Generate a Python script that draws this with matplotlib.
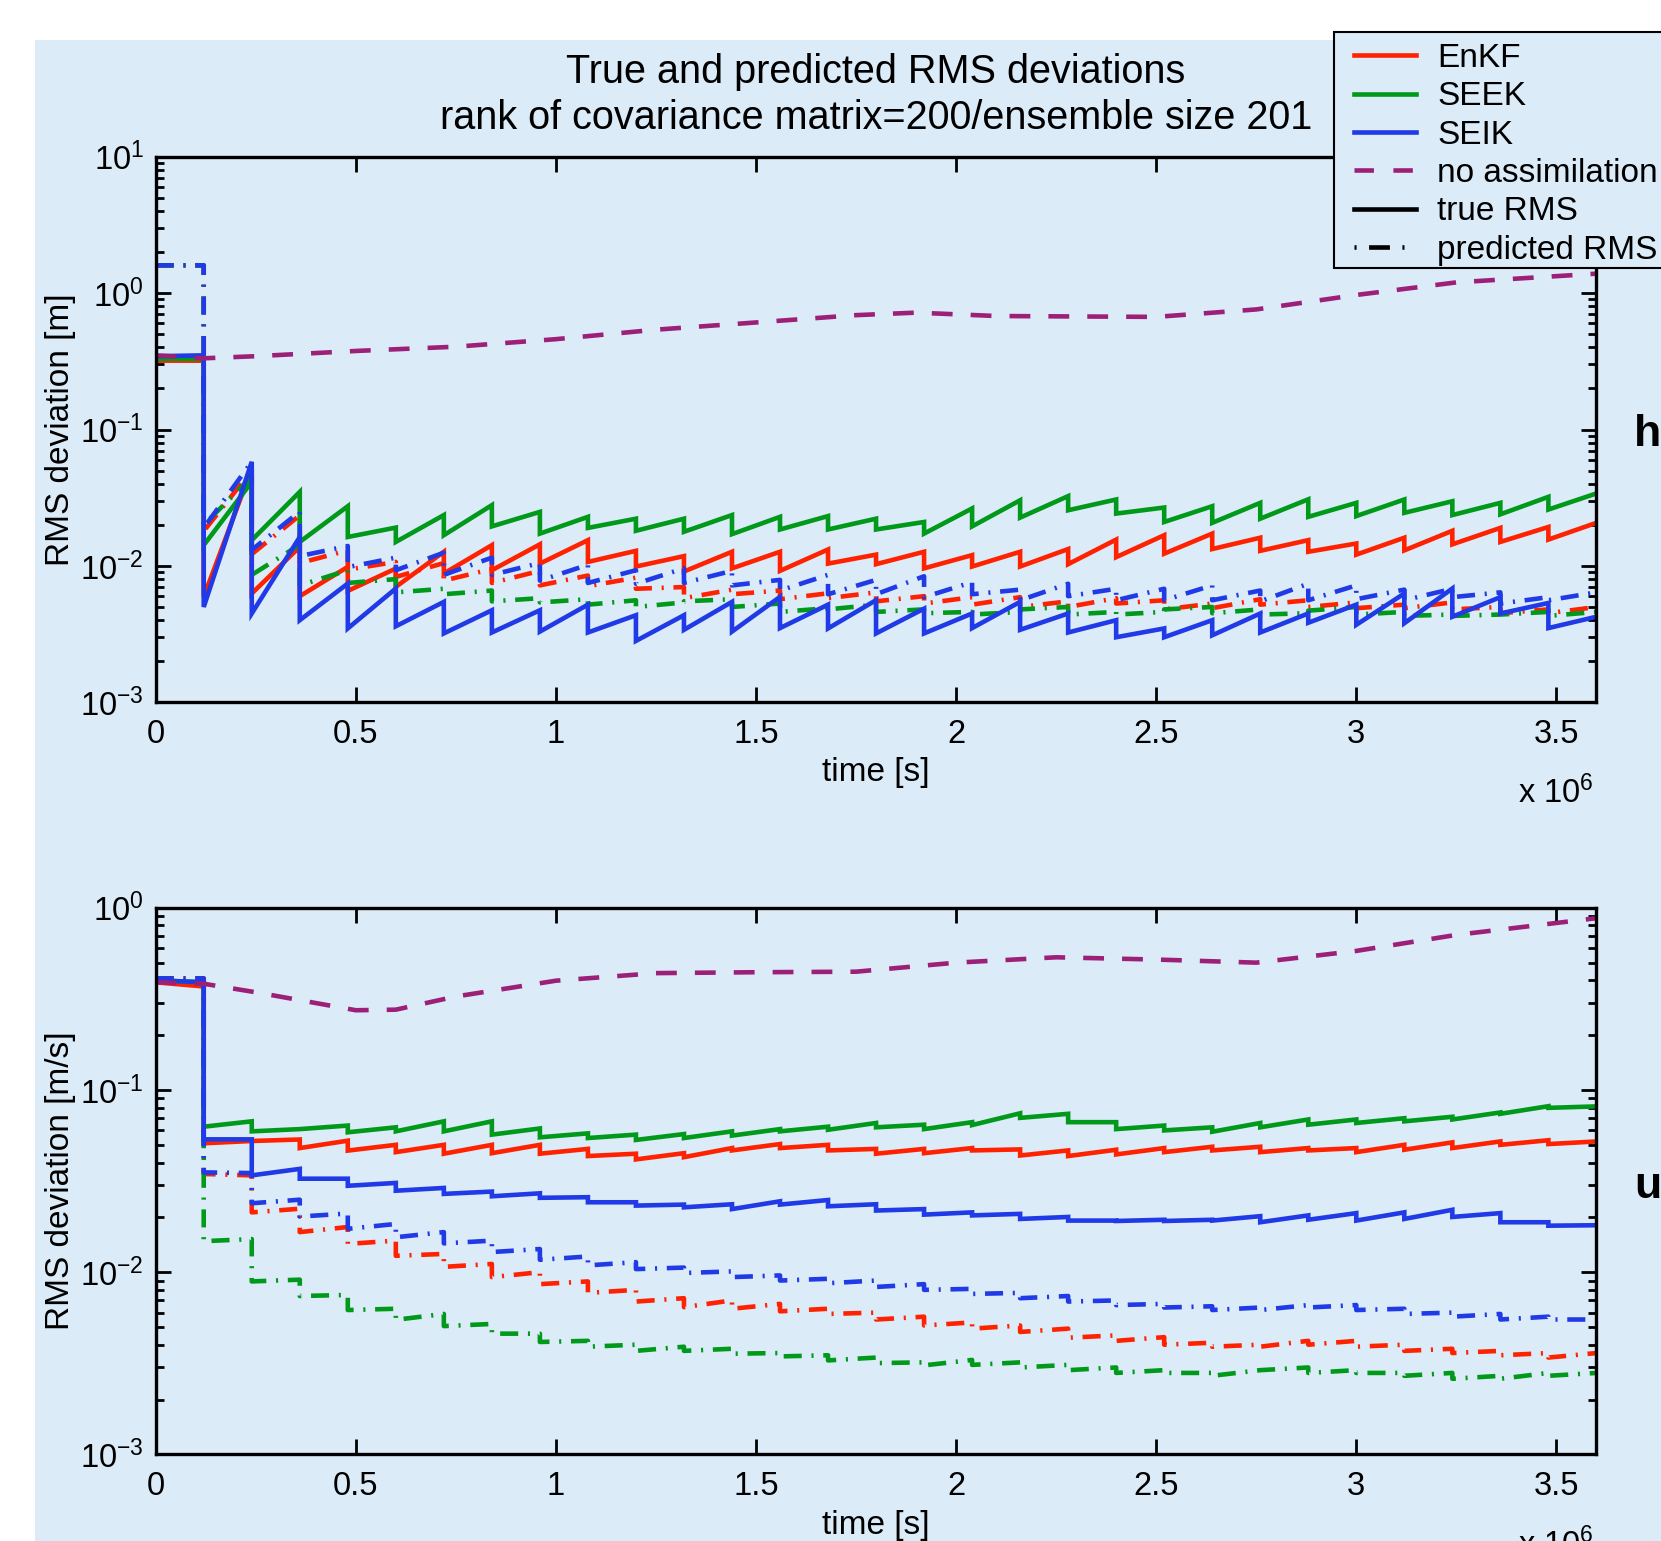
import matplotlib
matplotlib.use('Agg')
import matplotlib.pyplot as plt
from matplotlib.lines import Line2D
from matplotlib.patches import Rectangle
from matplotlib.ticker import FixedLocator, FixedFormatter, LogLocator, NullFormatter, NullLocator

plt.rcParams['font.family'] = ['Liberation Sans', 'DejaVu Sans']
plt.rcParams['mathtext.fontset'] = 'custom'
plt.rcParams['mathtext.rm'] = 'Liberation Sans'
plt.rcParams['mathtext.it'] = 'Liberation Sans:italic'
plt.rcParams['mathtext.bf'] = 'Liberation Sans:bold'
plt.rcParams['lines.scale_dashes'] = False

# ---------------- data ----------------
# analysis times (units of 1e6 s)
t_analysis = [0.00, 0.12, 0.24, 0.36, 0.48, 0.60, 0.72, 0.84, 0.96, 1.08, 1.20,
              1.32, 1.44, 1.56, 1.68, 1.80, 1.92, 2.04, 2.16, 2.28, 2.40,
              2.52, 2.64, 2.76, 2.88, 3.00, 3.12, 3.24, 3.36, 3.48, 3.60]

# ---- h (sea surface height) ----  value at start / end of each forecast interval
enkf_h_start = [0.32, 0.00593, 0.00628, 0.0060, 0.00656, 0.00702, 0.0088, 0.0093, 0.0104, 0.0107,
                0.0099, 0.0091, 0.0096, 0.0092, 0.0104, 0.0103, 0.0096, 0.0099, 0.0099, 0.0103,
                0.0116, 0.0123, 0.0133, 0.0129, 0.0127, 0.0121, 0.0130, 0.0144, 0.0150, 0.0156]
enkf_h_end = [0.32, 0.0518, 0.0138, 0.00984, 0.00957, 0.0127, 0.0142, 0.0144, 0.01545, 0.0129,
              0.0118, 0.0127, 0.0127, 0.0132, 0.0121, 0.0127, 0.0120, 0.0127, 0.0133, 0.0156,
              0.0168, 0.01726, 0.0161, 0.01545, 0.0146, 0.0161, 0.0181, 0.0190, 0.0193, 0.0207]
seek_h_start = [0.33, 0.0142, 0.01545, 0.0150, 0.0163, 0.0150, 0.0168, 0.0195, 0.01726, 0.0190,
                0.0181, 0.0178, 0.0171, 0.0185, 0.0185, 0.0185, 0.01726, 0.0195, 0.0226, 0.0256,
                0.0242, 0.0210, 0.0207, 0.0222, 0.0229, 0.0232, 0.0245, 0.0236, 0.0239, 0.0259]
seek_h_end = [0.33, 0.0413, 0.0349, 0.0274, 0.0191, 0.0236, 0.0279, 0.0249, 0.0229, 0.0222,
              0.0222, 0.0236, 0.0229, 0.0232, 0.0222, 0.0210, 0.0264, 0.0303, 0.0325, 0.0307,
              0.0268, 0.0274, 0.0290, 0.0308, 0.0290, 0.0307, 0.0298, 0.0290, 0.0321, 0.0340]
seik_h_start = [0.345, 0.0050, 0.00448, 0.0040, 0.00348, 0.00361, 0.0032, 0.00325, 0.0033, 0.00325,
                0.00282, 0.0034, 0.0033, 0.0035, 0.00348, 0.0032, 0.0032, 0.0035, 0.0034, 0.00325,
                0.0030, 0.0030, 0.0031, 0.00325, 0.00383, 0.0037, 0.0038, 0.00424, 0.00448, 0.0035]
seik_h_end = [0.35, 0.058, 0.0163, 0.00743, 0.00683, 0.00545, 0.00473, 0.00473, 0.0052, 0.00435,
              0.00435, 0.00545, 0.00593, 0.0052, 0.00561, 0.00486, 0.00448, 0.00545, 0.00448, 0.0040,
              0.00348, 0.0040, 0.00448, 0.00448, 0.0052, 0.00628, 0.00683, 0.0059, 0.00535, 0.00424]

enkf_h_pred_start = [1.6, 0.018, 0.0122, 0.0105, 0.0094, 0.0083, 0.0078, 0.0075, 0.0072, 0.0071,
                     0.0068, 0.0058, 0.0062, 0.0057, 0.0058, 0.0055, 0.0053, 0.0052, 0.0050, 0.0050,
                     0.0053, 0.0048, 0.0049, 0.0052, 0.0050, 0.0049, 0.0049, 0.0048, 0.0045, 0.0045]
enkf_h_pred_end = [1.6, 0.050, 0.0235, 0.0130, 0.0107, 0.0105, 0.0095, 0.0092, 0.0085, 0.0082,
                   0.0070, 0.0067, 0.0066, 0.0063, 0.0064, 0.0060, 0.0059, 0.0059, 0.0055, 0.0058,
                   0.0056, 0.0053, 0.0057, 0.0056, 0.0054, 0.0052, 0.0054, 0.0050, 0.0048, 0.0050]
seek_h_pred_start = [1.6, 0.020, 0.0086, 0.0072, 0.0075, 0.0064, 0.0062, 0.0055, 0.0054, 0.0052,
                     0.0050, 0.0055, 0.0050, 0.0046, 0.0048, 0.0046, 0.0045, 0.0044, 0.0048, 0.0044,
                     0.0044, 0.0048, 0.0045, 0.0044, 0.0047, 0.0044, 0.0043, 0.0043, 0.0044, 0.0043]
seek_h_pred_end = [1.6, 0.045, 0.0143, 0.0093, 0.0080, 0.0068, 0.0066, 0.0058, 0.0057, 0.0056,
                   0.0054, 0.0057, 0.0053, 0.0049, 0.0052, 0.0048, 0.0046, 0.0046, 0.0050, 0.0046,
                   0.0046, 0.0050, 0.0048, 0.0045, 0.0050, 0.0046, 0.0044, 0.0044, 0.0046, 0.0046]
seik_h_pred_start = [1.6, 0.019, 0.0131, 0.0118, 0.0098, 0.0093, 0.0086, 0.0086, 0.0078, 0.0075,
                     0.0074, 0.0075, 0.0072, 0.0066, 0.0062, 0.0062, 0.0059, 0.0062, 0.0056, 0.0060,
                     0.0056, 0.0056, 0.0056, 0.0055, 0.0056, 0.0057, 0.0056, 0.0059, 0.0053, 0.0056]
seik_h_pred_end = [1.6, 0.058, 0.025, 0.0140, 0.0115, 0.0125, 0.0115, 0.0105, 0.0102, 0.0093,
                   0.0096, 0.0092, 0.0079, 0.0086, 0.0079, 0.0084, 0.0076, 0.0067, 0.0074, 0.0068,
                   0.0068, 0.0072, 0.0066, 0.0074, 0.0072, 0.0067, 0.0068, 0.0064, 0.0059, 0.0064]

noassim_h_t = [0, 0.12, 0.25, 0.5, 0.75, 1.0, 1.25, 1.5, 1.75, 1.9, 2.1, 2.5, 2.75, 3.0, 3.25, 3.6]
noassim_h = [0.35, 0.333, 0.345, 0.377, 0.405, 0.46, 0.54, 0.61, 0.69, 0.72, 0.68, 0.67, 0.76, 0.97, 1.2, 1.39]

# ---- u (velocity) ----
enkf_u_start = [0.39, 0.051, 0.0525, 0.048, 0.0465, 0.0456, 0.0447, 0.045, 0.0447, 0.0434,
                0.0416, 0.0428, 0.0466, 0.048, 0.0466, 0.0447, 0.045, 0.0466, 0.0437, 0.0434,
                0.0443, 0.0456, 0.0466, 0.0456, 0.0466, 0.0456, 0.047, 0.048, 0.050, 0.0505]
enkf_u_end = [0.37, 0.0525, 0.0535, 0.0527, 0.050, 0.050, 0.050, 0.050, 0.0475, 0.0447,
              0.045, 0.048, 0.0505, 0.050, 0.0475, 0.0475, 0.048, 0.0472, 0.0466, 0.047,
              0.048, 0.0488, 0.0488, 0.048, 0.048, 0.050, 0.0516, 0.0522, 0.053, 0.0522]
seek_u_start = [0.40, 0.0629, 0.0593, 0.0610, 0.0586, 0.0593, 0.0593, 0.0569, 0.0550, 0.0545,
                0.0532, 0.0545, 0.0562, 0.0593, 0.0605, 0.0624, 0.0610, 0.0642, 0.0703, 0.0666,
                0.0610, 0.0600, 0.0590, 0.0624, 0.0645, 0.0659, 0.0673, 0.0689, 0.0740, 0.0798]
seek_u_end = [0.39, 0.0673, 0.0610, 0.0638, 0.0624, 0.0673, 0.0673, 0.0615, 0.0578, 0.0569,
              0.0573, 0.0593, 0.0610, 0.0629, 0.0659, 0.0645, 0.0666, 0.0745, 0.0740, 0.0666,
              0.0638, 0.0624, 0.0659, 0.0689, 0.0689, 0.0700, 0.0713, 0.0753, 0.0815, 0.0813]
seik_u_start = [0.40, 0.0536, 0.034, 0.0326, 0.0298, 0.0280, 0.0269, 0.0261, 0.0256, 0.0242,
                0.0232, 0.0227, 0.0222, 0.0235, 0.0230, 0.0218, 0.0207, 0.0205, 0.0196, 0.0192,
                0.0191, 0.0191, 0.0192, 0.0188, 0.0194, 0.0192, 0.0196, 0.0201, 0.0188, 0.0180]
seik_u_end = [0.39, 0.0536, 0.0369, 0.0326, 0.0309, 0.0290, 0.0277, 0.0271, 0.0258, 0.0242,
              0.0235, 0.0236, 0.0245, 0.0249, 0.0236, 0.0222, 0.0213, 0.0209, 0.0201, 0.0192,
              0.0194, 0.0194, 0.0203, 0.0205, 0.0211, 0.0213, 0.0220, 0.0211, 0.0188, 0.0181]

enkf_u_pred_start = [0.41, 0.0346, 0.0213, 0.0166, 0.0143, 0.0123, 0.0107, 0.0094, 0.0086, 0.0077,
                     0.0069, 0.00643, 0.0063, 0.0061, 0.0059, 0.0055, 0.0051, 0.0049, 0.0047, 0.00437,
                     0.0042, 0.0040, 0.0039, 0.0039, 0.0040, 0.0039, 0.0037, 0.0036, 0.0035, 0.0034]
enkf_u_pred_end = [0.41, 0.0340, 0.0223, 0.0177, 0.0149, 0.0126, 0.0111, 0.0100, 0.0089, 0.0080,
                   0.0072, 0.0070, 0.0067, 0.0063, 0.0060, 0.0057, 0.0053, 0.0051, 0.0049, 0.0045,
                   0.0044, 0.0041, 0.0040, 0.0042, 0.0042, 0.0040, 0.0038, 0.0037, 0.0036, 0.0036]
seek_u_pred_start = [0.40, 0.0148, 0.0089, 0.0074, 0.0062, 0.00548, 0.00506, 0.0046, 0.00414, 0.0039,
                     0.0037, 0.0037, 0.00357, 0.00345, 0.00328, 0.00317, 0.00308, 0.0031, 0.0030, 0.0029,
                     0.0028, 0.0028, 0.0027, 0.0029, 0.0028, 0.0028, 0.0027, 0.0026, 0.0026, 0.0027]
seek_u_pred_end = [0.40, 0.0152, 0.0091, 0.0075, 0.0063, 0.0059, 0.0052, 0.0046, 0.0042, 0.0040,
                   0.0039, 0.0038, 0.0036, 0.0035, 0.0034, 0.0032, 0.0033, 0.0032, 0.0031, 0.0030,
                   0.0029, 0.0028, 0.0029, 0.0030, 0.0029, 0.0028, 0.0028, 0.0027, 0.0028, 0.0028]
seik_u_pred_start = [0.41, 0.0353, 0.0239, 0.0202, 0.0173, 0.01555, 0.0144, 0.0129, 0.0117, 0.0109,
                     0.0104, 0.0099, 0.0094, 0.0090, 0.0087, 0.0083, 0.0080, 0.0076, 0.0072, 0.0069,
                     0.0066, 0.0064, 0.0062, 0.0062, 0.0064, 0.0062, 0.0059, 0.0057, 0.0055, 0.0055]
seik_u_pred_end = [0.41, 0.0350, 0.0250, 0.0210, 0.0184, 0.0166, 0.0149, 0.0134, 0.0122, 0.01135,
                   0.0106, 0.0101, 0.0096, 0.0092, 0.0090, 0.0086, 0.0081, 0.0077, 0.0074, 0.0070,
                   0.0067, 0.0065, 0.0064, 0.0066, 0.0066, 0.0063, 0.0060, 0.0059, 0.0057, 0.0055]

noassim_u_t = [0, 0.12, 0.25, 0.5, 0.6, 0.75, 1.0, 1.25, 1.5, 1.75, 2.0, 2.25, 2.5, 2.75, 3.0, 3.25, 3.6]
noassim_u = [0.39, 0.383, 0.344, 0.274, 0.276, 0.326, 0.398, 0.438, 0.443, 0.446, 0.50, 0.535, 0.52, 0.50, 0.58, 0.71, 0.877]

x_ticks = [0, 0.5, 1, 1.5, 2, 2.5, 3, 3.5]
x_ticklabels = ['0', '0.5', '1', '1.5', '2', '2.5', '3', '3.5']
methods = ['EnKF', 'SEEK', 'SEIK']

# ---------------- style ----------------
BG = '#dbebf8'
C_ENKF = '#ff2200'
C_SEEK = '#00991a'
C_SEIK = '#1f3ae6'
C_NOAS = '#9c2078'
LW = 3.3
DASHDOT = (0, (13, 7, 1.5, 7))
DASHED = (0, (15, 13))
FS = 24
FS_TICK = 23.5

W, H = 1661, 1541
fig = plt.figure(figsize=(W / 100, H / 100), dpi=100)
fig.patch.set_facecolor('white')
fig.add_artist(Rectangle((35 / W, 0), 1 - 35 / W, 1 - 40 / H, transform=fig.transFigure,
                         facecolor=BG, edgecolor='none', zorder=-10))


def saw(start, end):
    xs, ys = [], []
    for k in range(len(start)):
        xs += [t_analysis[k], t_analysis[k + 1]]
        ys += [start[k], end[k]]
    return xs, ys


def setup(ax, ylim, ylabel, yticks, yticklabels, side_label):
    ax.set_facecolor(BG)
    ax.set_yscale('log')
    ax.set_xlim(0, 3.6)
    ax.set_ylim(*ylim)
    ax.xaxis.set_major_locator(FixedLocator(x_ticks))
    ax.xaxis.set_major_formatter(FixedFormatter(x_ticklabels))
    ax.xaxis.set_minor_locator(NullLocator())
    ax.yaxis.set_major_locator(FixedLocator(yticks))
    ax.yaxis.set_major_formatter(FixedFormatter(yticklabels))
    ax.yaxis.set_minor_locator(LogLocator(base=10, subs=[2, 3, 4, 5, 6, 7, 8, 9], numticks=20))
    ax.yaxis.set_minor_formatter(NullFormatter())
    ax.tick_params(which='both', direction='in', top=True, right=True, width=2.0, labelsize=FS_TICK)
    ax.tick_params(which='major', length=11)
    ax.tick_params(which='minor', length=6)
    ax.tick_params(axis='x', pad=12)
    ax.tick_params(axis='y', pad=8.5)
    for s in ax.spines.values():
        s.set_linewidth(2.4)
    ax.set_xlabel('time [s]', fontsize=FS, va='center')
    ax.xaxis.set_label_coords(0.5, -0.1296)
    ax.set_ylabel(ylabel, fontsize=FS, va='center')
    ax.yaxis.set_label_coords(-0.066, 0.5)
    ax.text(0.998, -0.166, r'x 10$^{6}$', transform=ax.transAxes, ha='right', va='center',
            fontsize=FS_TICK)
    ax.text(1.026, 0.491, side_label, transform=ax.transAxes, ha='left', va='center',
            fontsize=32, fontweight='bold')


def draw(ax, data, noas_t, noas_v):
    for (s, e, ps, pe), c in zip(data, [C_ENKF, C_SEEK, C_SEIK]):
        x, y = saw(s, e)
        ax.plot(x, y, color=c, lw=LW, solid_joinstyle='miter')
        x, y = saw(ps, pe)
        ax.plot(x, y, color=c, lw=LW, linestyle=DASHDOT)
    ax.plot(noas_t, noas_v, color=C_NOAS, lw=LW, linestyle=DASHED)


ax1 = fig.add_axes([155.7 / W, 1 - 702.3 / H, 1440.7 / W, 545.5 / H])
ax2 = fig.add_axes([155.7 / W, 1 - 1454.4 / H, 1440.7 / W, 546.6 / H])

draw(ax1, [(enkf_h_start, enkf_h_end, enkf_h_pred_start, enkf_h_pred_end),
           (seek_h_start, seek_h_end, seek_h_pred_start, seek_h_pred_end),
           (seik_h_start, seik_h_end, seik_h_pred_start, seik_h_pred_end)], noassim_h_t, noassim_h)
draw(ax2, [(enkf_u_start, enkf_u_end, enkf_u_pred_start, enkf_u_pred_end),
           (seek_u_start, seek_u_end, seek_u_pred_start, seek_u_pred_end),
           (seik_u_start, seik_u_end, seik_u_pred_start, seik_u_pred_end)], noassim_u_t, noassim_u)

setup(ax1, (1e-3, 1e1), 'RMS deviation [m]', [1e-3, 1e-2, 1e-1, 1e0, 1e1],
      [r'$10^{-3}$', r'$10^{-2}$', r'$10^{-1}$', r'$10^{0}$', r'$10^{1}$'], 'h')
setup(ax2, (1e-3, 1e0), 'RMS deviation [m/s]', [1e-3, 1e-2, 1e-1, 1e0],
      [r'$10^{-3}$', r'$10^{-2}$', r'$10^{-1}$', r'$10^{0}$'], 'u')

fig.text((155.7 + 1440.7 / 2) / W, 1 - 94.7 / H,
         'True and predicted RMS deviations\nrank of covariance matrix=200/ensemble size 201',
         ha='center', va='center', fontsize=28.5, linespacing=1.26)

# legend: frame drawn separately so that it runs off the right edge like the original
fig.add_artist(Rectangle((1334 / W, 1 - 267.7 / H), 400 / W, 236 / H, transform=fig.transFigure,
                         facecolor=BG, edgecolor='black', linewidth=1.5, zorder=4))
handles = [Line2D([], [], color=C_ENKF, lw=LW),
           Line2D([], [], color=C_SEEK, lw=LW),
           Line2D([], [], color=C_SEIK, lw=LW),
           Line2D([], [], color=C_NOAS, lw=LW, linestyle=(0, (14, 14))),
           Line2D([], [], color='black', lw=LW),
           Line2D([], [], color='black', lw=LW, linestyle=(0, (1.5, 9, 15, 9, 1.5, 40)))]
labels = methods + ['no assimilation', 'true RMS', 'predicted RMS']
leg = fig.legend(handles, labels, loc='upper left', bbox_to_anchor=(1354 / W, 1 - 43 / H),
                 borderaxespad=0, borderpad=0, fontsize=FS, handlelength=1.86,
                 handletextpad=0.63, labelspacing=0.22, frameon=False)
leg.set_zorder(5)

fig.savefig('out.png', dpi=100, facecolor='white')
